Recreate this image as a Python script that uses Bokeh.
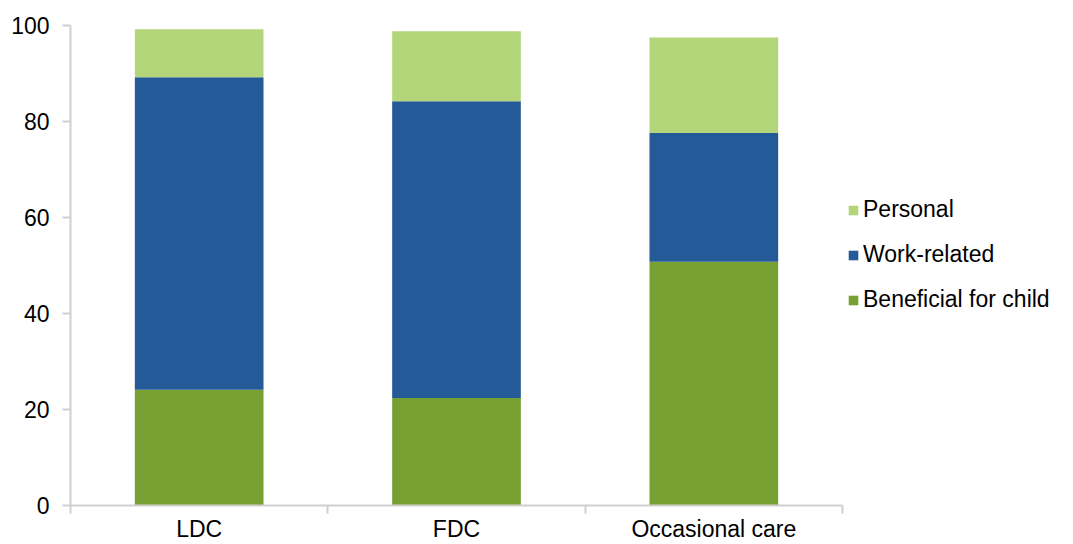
from bokeh.plotting import figure
from bokeh.models import ColumnDataSource, FixedTicker, Legend, LegendItem, Range1d
from bokeh.embed import file_html
from bokeh.resources import INLINE

categories = ["LDC", "FDC", "Occasional care"]
beneficial = [24.1, 22.4, 50.8]
work_related = [65.1, 61.8, 26.8]
personal = [10.0, 14.6, 19.9]

series_names = ["Beneficial for child", "Work-related", "Personal"]
colors = ["#77A032", "#255A98", "#B3D67A"]

xpos = [i + 0.5 for i in range(len(categories))]
source = ColumnDataSource(dict(x=xpos, b=beneficial, w=work_related, p=personal))

FONT = "Liberation Sans"
W, H = 1073, 544
LEFT, RIGHT_AXIS_END = 70, 842
n = len(categories)
x_end = n * (W - LEFT) / (RIGHT_AXIS_END - LEFT)

p = figure(width=W, height=H, output_backend="svg", toolbar_location=None,
           x_range=Range1d(0, x_end), y_range=Range1d(0, 100),
           min_border_left=LEFT, min_border_right=0, min_border_top=25, min_border_bottom=38)

renderers = p.vbar_stack(["b", "w", "p"], x="x", width=0.5, source=source,
                         color=colors, line_color=None)

p.xgrid.visible = False
p.ygrid.visible = False
p.outline_line_color = None

axis_color = "#CFCFCF"
p.yaxis.ticker = FixedTicker(ticks=[0, 20, 40, 60, 80, 100])
p.yaxis.axis_line_color = axis_color
p.yaxis.axis_line_width = 2
p.yaxis.major_tick_line_color = axis_color
p.yaxis.major_tick_line_width = 2
p.yaxis.major_tick_in = 0
p.yaxis.major_tick_out = 8
p.yaxis.minor_tick_line_color = None
p.yaxis.major_label_text_font = FONT
p.yaxis.major_label_text_font_size = "23px"
p.yaxis.major_label_text_color = "#000000"
p.yaxis.major_label_standoff = 13

p.xaxis.bounds = (0, n)
p.xaxis.ticker = FixedTicker(ticks=xpos, minor_ticks=list(range(n + 1)))
p.xaxis.major_label_overrides = {x: c for x, c in zip(xpos, categories)}
p.xaxis.axis_line_color = axis_color
p.xaxis.axis_line_width = 2
p.xaxis.major_tick_line_color = None
p.xaxis.minor_tick_line_color = axis_color
p.xaxis.minor_tick_line_width = 2
p.xaxis.minor_tick_in = 0
p.xaxis.minor_tick_out = 8
p.xaxis.major_label_text_font = FONT
p.xaxis.major_label_text_font_size = "23px"
p.xaxis.major_label_text_color = "#000000"
p.xaxis.major_label_standoff = 2

items = [LegendItem(label=series_names[i], renderers=[renderers[i]]) for i in [2, 1, 0]]
legend = Legend(items=items, location=(777, 192), orientation="vertical",
                glyph_width=12, glyph_height=12, label_standoff=4,
                label_height=22, spacing=18, padding=0, margin=0,
                border_line_color=None, background_fill_alpha=0,
                label_text_font=FONT, label_text_font_size="23px",
                label_text_color="#000000")
p.add_layout(legend, "center")

open("out.html", "w").write(file_html(p, INLINE))
